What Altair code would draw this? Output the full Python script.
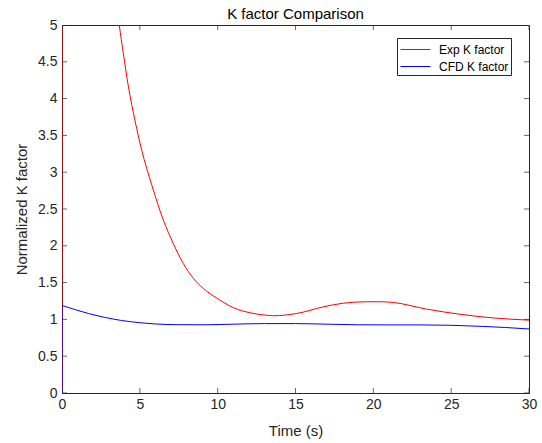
import altair as alt
import pandas as pd

# ---- data ----
exp_t = [0.0, 1.0, 2.0, 3.0, 3.68, 3.94, 4.26, 4.69, 5.12, 5.76, 6.51, 7.15, 7.79,
         8.43, 9.08, 9.94, 11.0, 12.08, 13.15, 13.6, 15.07, 16.78, 18.07, 19.57, 20.5,
         21.28, 23.42, 25.56, 27.7, 30.0]
exp_v = [25.0, 13.0, 8.5, 6.3, 5.0, 4.615, 4.17, 3.70, 3.30, 2.83, 2.35, 2.03, 1.76,
         1.56, 1.42, 1.29, 1.16, 1.09, 1.056, 1.05, 1.08, 1.17, 1.22, 1.24, 1.24,
         1.23, 1.14, 1.07, 1.02, 0.99]

cfd_t = [0.0, 1.7, 2.8, 3.83, 5.0, 6.0, 7.5, 9.18, 11.0, 13.0, 15.0, 17.0, 19.0,
         21.0, 23.0, 25.0, 27.0, 28.5, 30.0]
cfd_v = [1.19, 1.08, 1.025, 0.985, 0.955, 0.938, 0.928, 0.927, 0.935, 0.943, 0.943,
         0.935, 0.927, 0.925, 0.925, 0.92, 0.905, 0.89, 0.87]

# both series start from 0 at t = 0 and jump straight up
start_v = 0.0

series_names = ["Exp K factor", "CFD K factor"]
series_colors = ["#ff0000", "#0000ff"]

x_ticks = [0, 5, 10, 15, 20, 25, 30]
y_ticks = [0, 0.5, 1, 1.5, 2, 2.5, 3, 3.5, 4, 4.5, 5]

# ---- tables ----
df = pd.concat([
    pd.DataFrame({"t": exp_t, "v": exp_v, "series": series_names[0], "k": 0}),
    pd.DataFrame({"t": cfd_t, "v": cfd_v, "series": series_names[1], "k": 1}),
])
rise = pd.DataFrame({
    "t": [exp_t[0], exp_t[0], cfd_t[0], cfd_t[0]],
    "v": [start_v, exp_v[0], start_v, cfd_v[0]],
    "series": [series_names[0]] * 2 + [series_names[1]] * 2,
    "k": [0, 0, 1, 1],
    "i": [0, 1, 0, 1],
})
xt = pd.DataFrame({"t": x_ticks})
yt = pd.DataFrame({"v": y_ticks})

W, H = 467, 368
AX = "#262626"
FONT = "Liberation Sans"

xscale = alt.Scale(domain=[0, 30], nice=False, zero=False)
yscale = alt.Scale(domain=[0, 5], nice=False)
xaxis = alt.Axis(values=x_ticks, format="~g")
yaxis = alt.Axis(values=y_ticks, format="~g")
X = alt.X("t:Q", scale=xscale, title="Time (s)", axis=xaxis)
Y = alt.Y("v:Q", scale=yscale, title="Normalized K factor", axis=yaxis)
C = alt.Color("series:N",
              scale=alt.Scale(domain=series_names, range=series_colors),
              sort=series_names,
              legend=alt.Legend(title=None, orient="none", legendX=335, legendY=13,
                                symbolType="M-1.67,0H1.67", symbolSize=324,
                                symbolStrokeWidth=1, symbolOffset=7,
                                labelOffset=14, padding=2, rowPadding=1,
                                labelFont=FONT, labelFontSize=12, labelColor="#000000",
                                strokeColor=AX, fillColor="white"))

rises = alt.Chart(rise).mark_line(clip=True, strokeWidth=1).encode(
    x=X, y=Y, color=C, detail="k:N", order="i:Q")
lines = alt.Chart(df).mark_line(clip=True, strokeWidth=1, interpolate="monotone").encode(
    x=X, y=Y, color=C, detail="k:N")

tick_style = dict(orient="vertical", size=10, thickness=1, clip=True, color=AX)
bx = alt.Chart(xt).mark_tick(**tick_style).encode(x=X, y=alt.value(H))
tx = alt.Chart(xt).mark_tick(**tick_style).encode(x=X, y=alt.value(0))
htick = dict(orient="horizontal", size=10, thickness=1, clip=True, color=AX)
ly = alt.Chart(yt).mark_tick(**htick).encode(y=Y, x=alt.value(0))
ry = alt.Chart(yt).mark_tick(**htick).encode(y=Y, x=alt.value(W))

chart = alt.layer(rises, lines, bx, tx, ly, ry).properties(
    width=W, height=H,
    title=alt.Title("K factor Comparison", font=FONT, fontSize=15, fontWeight="normal",
                    color="#000000", offset=-4),
    autosize=alt.AutoSizeParams(type="none"),
    padding={"left": 62, "top": 25, "right": 13, "bottom": 50},
).configure_view(stroke=AX, strokeWidth=1).configure_axis(
    grid=False, domainColor=AX, domainWidth=1, tickSize=0, labelFlush=False,
    labelFont=FONT, labelFontSize=14, labelColor=AX,
    titleFont=FONT, titleFontSize=15, titleFontWeight="normal", titleColor=AX,
).configure_axisX(labelPadding=4, titlePadding=12).configure_axisY(
    labelPadding=5, titlePadding=8)

chart.save("out.html", embed_options={"renderer": "svg", "actions": False})
